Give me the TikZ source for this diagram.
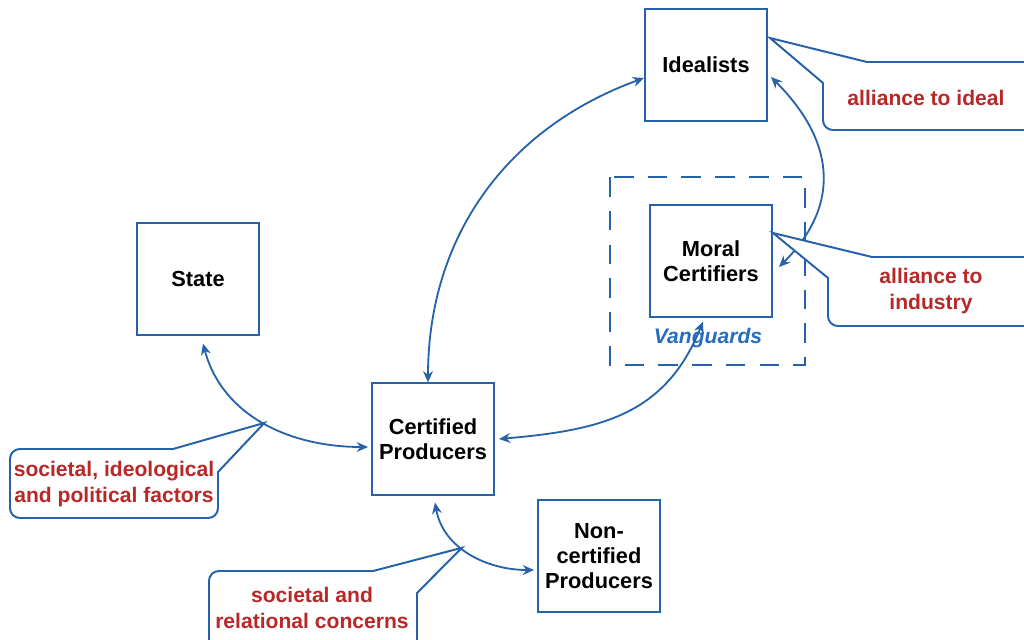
\documentclass[tikz,border=0pt]{standalone}
\usepackage{fontspec}
\setmainfont{Liberation Sans}
\usetikzlibrary{calc,arrows.meta,positioning}
\definecolor{lineBlue}{RGB}{38,98,170}
\definecolor{noteRed}{RGB}{185,40,40}
\definecolor{tagBlue}{RGB}{40,108,190}

\begin{document}
\begin{tikzpicture}[x=0.025cm,y=0.025cm,
  actor/.style={draw=lineBlue,line width=1.4pt,fill=white,minimum width=3.05cm,minimum height=2.78cm,
    align=center,font=\bfseries\fontsize{15.5}{18}\selectfont},
  link/.style={lineBlue,line width=1.3pt,{Stealth[length=8pt,width=7pt]}-{Stealth[length=8pt,width=7pt]}},
  bubble/.style={draw=lineBlue,line width=1.4pt,fill=white},
  note/.style={text=noteRed,align=center,font=\bfseries\fontsize{15}{18.5}\selectfont}]
  \path[use as bounding box,clip] (0,0) rectangle (1024,-639);

  % les acteurs
  \draw[lineBlue,line width=1.8pt,dash pattern=on 14pt off 10pt] (610,-177) rectangle (805,-365);
  \node[text=tagBlue,font=\bfseries\itshape\fontsize{15}{18}\selectfont] (vtag) at (708,-338) {Vanguards};
  \node[actor] (ideal) at (706,-65) {Idealists};
  \node[actor] (moral) at (711,-261) {Moral\\Certifiers};
  \node[actor] (state) at (198,-279) {State};
  \node[actor] (cert) at (433,-439) {Certified\\Producers};
  \node[actor] (noncert) at (599,-556) {Non-\\certified\\Producers};

  % les liens
  \draw[link] ($(cert.north)+(-5,0)$) to[out=90,in=200] ($(ideal.west)+(0,-13)$);
  \draw[link] ($(state.south)+(5,-8)$) to[out=-75,in=180] coordinate[pos=0.5] (sp) ($(cert.west)+(-3,-8)$);
  \draw[link] ($(moral.south)+(-8,-4)$) to[out=-112,in=5,looseness=1.1] ($(cert.east)+(4,0)$);
  \draw[link] ($(cert.south)+(2,-7)$) to[out=-80,in=180] coordinate[pos=0.42] (rp) ($(noncert.west)+(-3,-14)$);
  \draw[link] ($(ideal.east)+(3,-12)$) to[out=-45,in=45,looseness=1.2] ($(moral.east)+(6,-6)$);

  % les bulles
  \coordinate (tipI) at (770,-38);
  \coordinate (tipM) at (773,-233);
  \draw[bubble] (tipI) -- (867,-62) -- (1040,-62) -- (1040,-130) [rounded corners=7pt] -- (823,-130) [sharp corners] -- (823,-83) -- cycle;
  \draw[bubble] (tipM) -- (872,-257) -- (1040,-257) -- (1040,-326) [rounded corners=7pt] -- (828,-326) [sharp corners] -- (828,-278) -- cycle;
  \draw[bubble] (sp) -- (173,-449) [rounded corners=7pt] -- (10,-449) -- (10,-518) -- (218,-518) [sharp corners] -- (218,-472) -- cycle;
  \draw[bubble] (rp) -- (373,-571) [rounded corners=7pt] -- (209,-571) -- (209,-660) [sharp corners] -- (417,-660) -- (417,-593) -- cycle;

  \node[note] (nIdeal) at (926,-98) {alliance to ideal};
  \node[note] (nIndustry) at (931,-291) {alliance to\\industry};
  \node[note] (nFactors) at (114,-484) {societal, ideological\\and political factors};
  \node[note] (nConcerns) at (312,-608) {societal and\\relational concerns};
\end{tikzpicture}
\end{document}
